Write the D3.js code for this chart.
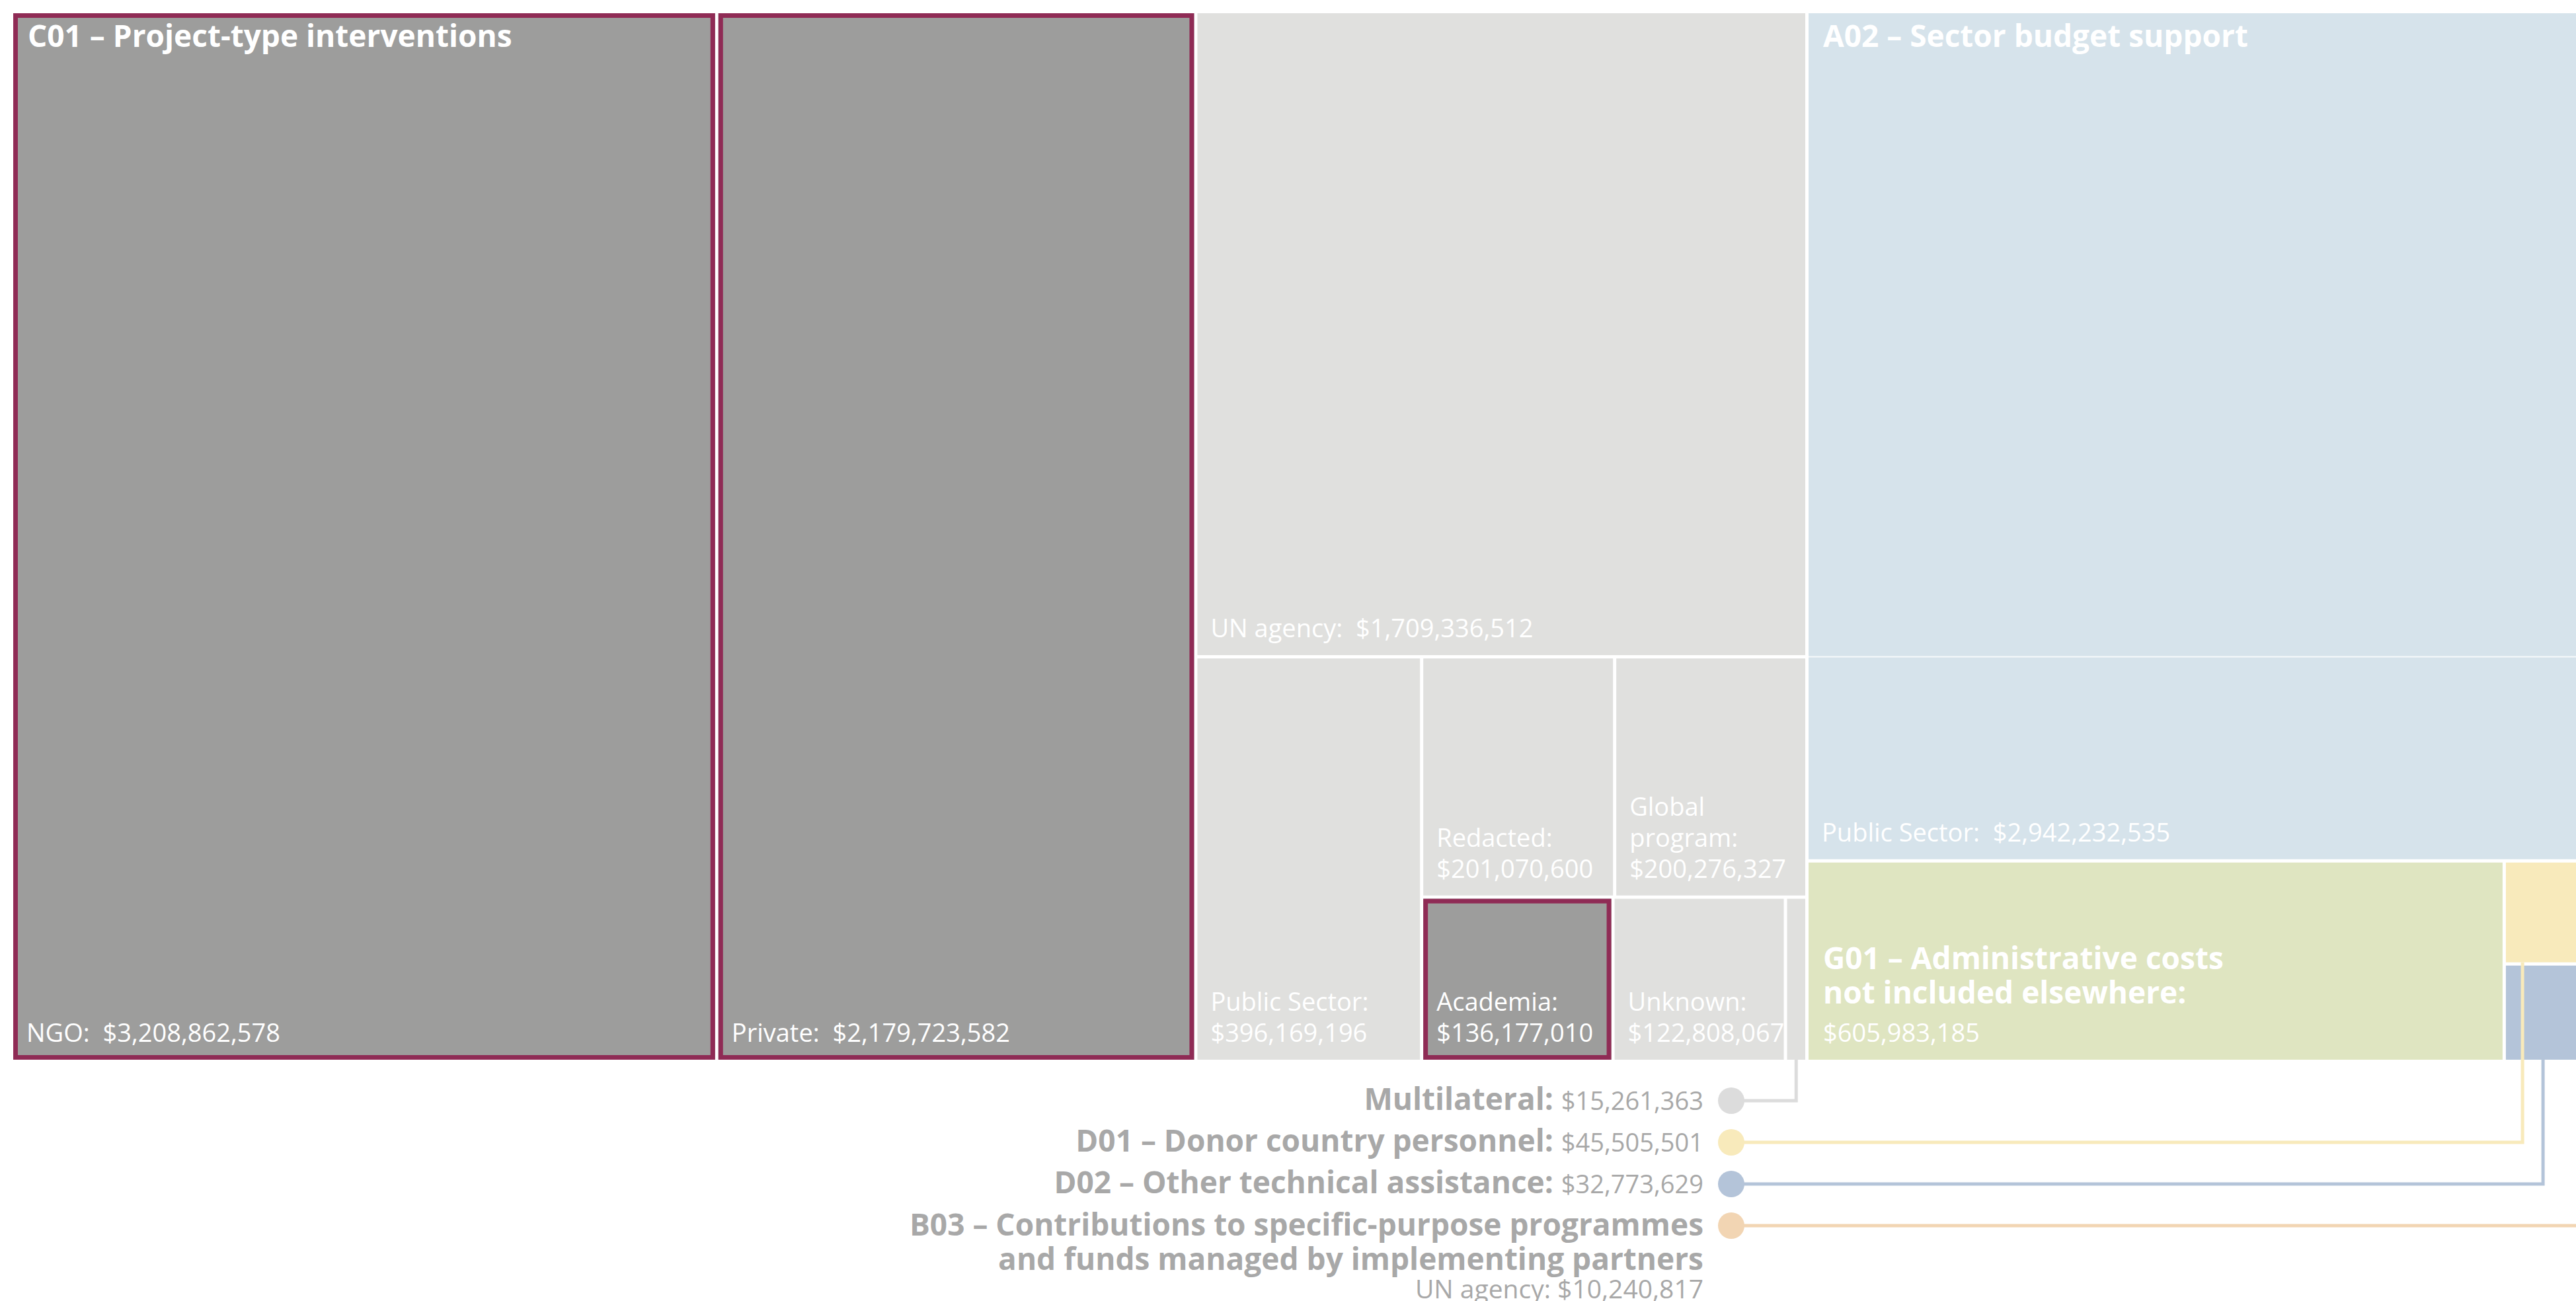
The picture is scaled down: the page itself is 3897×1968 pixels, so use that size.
<!DOCTYPE html>
<html>
<head>
<meta charset="utf-8">
<script src="https://cdn.jsdelivr.net/npm/d3@7"></script>
<style>
  body { margin: 0; background: #fff; }
  svg { display: block; font-family: "Open Sans", sans-serif; }
</style>
</head>
<body>
<div id="chart"></div>
<script>
var width = 3897;
var height = 1968;

// aid types (top level of the treemap)
var typeCodes = ["C01", "A02", "G01", "D01", "D02", "B03"];
var typeNames = [
  "C01 – Project-type interventions",
  "A02 – Sector budget support",
  "G01 – Administrative costs\nnot included elsewhere",
  "D01 – Donor country personnel",
  "D02 – Other technical assistance",
  "B03 – Contributions to specific-purpose programmes\nand funds managed by implementing partners"
];
var typeColors = ["#e0e0de", "#d6e3eb", "#dfe5c1", "#f8eabb", "#b4c4d9", "#f2d5b3"];

// recipients (leaves)
var leafTypes = ["C01", "C01", "C01", "C01", "C01", "C01", "C01", "C01", "C01", "A02", "G01", "D01", "D02", "B03"];
var leafRecipients = ["NGO", "Private", "UN agency", "Public Sector", "Redacted", "Global program",
  "Academia", "Unknown", "Multilateral", "Public Sector", null, null, null, "UN agency"];
var leafValues = [3208862578, 2179723582, 1709336512, 396169196, 201070600, 200276327,
  136177010, 122808067, 15261363, 2942232535, 605983185, 45505501, 32773629, 10240817];
var highlighted = ["NGO", "Private", "Academia"];

var highlightFill = "#9d9d9c";
var highlightStroke = "#8f2b55";
var legendColor = "#a8a8a8";
var fmt = d3.format("$,");

// squarified tiling, same as d3's squarify but allowing a target ratio below 1
function squarifyLoose(ratio) {
  return function(parent, x0, y0, x1, y1) {
    var nodes = parent.children, value = parent.value, i0 = 0;
    while (i0 < nodes.length) {
      var dx = x1 - x0, dy = y1 - y0;
      var i1 = i0, sum = nodes[i1++].value, minV = sum, maxV = sum;
      var alpha = Math.max(dy / dx, dx / dy) / (value * ratio);
      var beta = sum * sum * alpha;
      var best = Math.max(maxV / beta, beta / minV);
      for (; i1 < nodes.length; ++i1) {
        var v = nodes[i1].value, s = sum + v;
        var mn = Math.min(minV, v), mx = Math.max(maxV, v);
        beta = s * s * alpha;
        var r = Math.max(mx / beta, beta / mn);
        if (r > best) break;
        sum = s; minV = mn; maxV = mx; best = r;
      }
      var row = {value: sum, children: nodes.slice(i0, i1)};
      if (dx < dy) {
        var yb = y0 + dy * sum / value;
        d3.treemapDice(row, x0, y0, x1, yb);
        y0 = yb;
      } else {
        var xb = x0 + dx * sum / value;
        d3.treemapSlice(row, x0, y0, xb, y1);
        x0 = xb;
      }
      value -= sum;
      i0 = i1;
    }
  };
}

var data = {
  children: typeCodes.map(function(code, i) {
    return {
      code: code, name: typeNames[i], color: typeColors[i],
      children: leafValues.map(function(v, j) {
        return {type: code, recipient: leafRecipients[j], value: v, t: leafTypes[j]};
      }).filter(function(d) { return d.t === code; })
    };
  })
};

var root = d3.hierarchy(data)
  .sum(function(d) { return d.value || 0; })
  .sort(function(a, b) { return b.value - a.value; });

d3.treemap()
  .size([3920, 1583])
  .paddingInner(5)
  .tile(squarifyLoose(0.85))(root);

var svg = d3.select("#chart").append("svg")
  .attr("width", width)
  .attr("height", height);

var g = svg.append("g").attr("transform", "translate(20,20)");

var leaves = root.leaves();
function isCallout(d) { return d.x1 - d.x0 < 200; }
function isHigh(d) { return d.data.type === "C01" && highlighted.indexOf(d.data.recipient) >= 0; }

// tiles
var tile = g.selectAll("g.tile")
  .data(leaves)
  .enter().append("g")
  .attr("class", "tile");

tile.append("rect")
  .attr("x", function(d) { return d.x0; })
  .attr("y", function(d) { return d.y0; })
  .attr("width", function(d) { return d.x1 - d.x0; })
  .attr("height", function(d) { return d.y1 - d.y0; })
  .style("fill", function(d) { return isHigh(d) ? highlightFill : d.parent.data.color; });

tile.filter(isHigh).append("rect")
  .attr("x", function(d) { return d.x0 + 3.5; })
  .attr("y", function(d) { return d.y0 + 3.5; })
  .attr("width", function(d) { return d.x1 - d.x0 - 7; })
  .attr("height", function(d) { return d.y1 - d.y0 - 7; })
  .style("fill", "none")
  .style("stroke", highlightStroke)
  .style("stroke-width", 7);

// faint seam across A02 at the height of the UN agency row
var unLeaf = leaves.filter(function(d) { return d.data.type === "C01" && d.data.recipient === "UN agency"; })[0];
var a02 = root.children.filter(function(d) { return d.data.code === "A02"; })[0];
g.append("line")
  .attr("x1", a02.x0).attr("x2", a02.x1)
  .attr("y1", unLeaf.y1 + 2.5).attr("y2", unLeaf.y1 + 2.5)
  .style("stroke", "#fff").style("stroke-width", 2).style("opacity", 0.8);

// text measuring helper
var measurer = g.append("text").style("visibility", "hidden");
function textWidth(str, size, weight) {
  measurer.style("font-size", size + "px").style("font-weight", weight).text(str);
  return measurer.node().getComputedTextLength();
}

var labelSize = 38, titleSize = 46, lineH = 47, pad = 20;

// group titles at the top-left of their first tile
root.children.forEach(function(group) {
  var first = group.leaves()[0];
  if (first.data.recipient && !isCallout(first)) {
    g.append("text")
      .attr("x", first.x0 + 22)
      .attr("y", first.y0 + 51)
      .style("font-size", titleSize + "px")
      .style("font-weight", 700)
      .style("fill", "#fff")
      .text(group.data.name);
  }
});

// tile labels at the bottom-left
leaves.filter(function(d) { return !isCallout(d); }).forEach(function(d) {
  var x = d.x0 + pad, yb = d.y1 - 27;
  if (d.data.recipient) {
    var maxW = d.x1 - d.x0 - 2 * pad;
    var words = (d.data.recipient + ":").split(" ");
    var lines = [], line = words[0];
    words.slice(1).forEach(function(w) {
      if (textWidth(line + " " + w, labelSize, 400) <= maxW) line += " " + w;
      else { lines.push(line); line = w; }
    });
    var val = fmt(d.data.value);
    if (textWidth(line + "\u00a0\u00a0" + val, labelSize, 400) <= maxW) line += "\u00a0\u00a0" + val;
    else { lines.push(line); line = val; }
    lines.push(line);
    var t = g.append("text").style("font-size", labelSize + "px").style("fill", "#fff");
    lines.forEach(function(l, i) {
      t.append("tspan").attr("x", x).attr("y", yb - (lines.length - 1 - i) * lineH).text(l);
    });
  } else {
    var nameLines = d.parent.data.name.split("\n");
    nameLines[nameLines.length - 1] += ":";
    var t2 = g.append("text").style("fill", "#fff");
    nameLines.forEach(function(l, i) {
      t2.append("tspan").attr("x", d.x0 + 22)
        .attr("y", yb - 58 - (nameLines.length - 1 - i) * 52)
        .style("font-size", titleSize + "px").style("font-weight", 700).text(l);
    });
    t2.append("tspan").attr("x", d.x0 + 22).attr("y", yb)
      .style("font-size", labelSize + "px").text(fmt(d.data.value));
  }
});

// callouts for tiles too small to label
var callouts = leaves.filter(isCallout);
var dotX = 2599, rowY0 = 1645, rowStep = 63, dotR = 20;
var anchors = callouts.map(function(d) { return (d.x0 + d.x1) / 2; });
for (var i = anchors.length - 2; i >= 0; i--) {
  anchors[i] = Math.min(anchors[i], anchors[i + 1] - 31);
}

callouts.forEach(function(d, i) {
  var y = rowY0 + i * rowStep;
  var color = d.parent.data.code === "C01" ? "#dcdcdc" : d.parent.data.color;
  g.append("path")
    .attr("d", "M" + dotX + "," + y + "H" + anchors[i] + "V" + d.y1)
    .style("fill", "none")
    .style("stroke", color)
    .style("stroke-width", 5);
  g.append("circle")
    .attr("cx", dotX).attr("cy", y).attr("r", dotR)
    .style("fill", color);

  var tx = dotX - 42;
  var single = d.parent.children.length === 1;
  if (!single || !d.data.recipient) {
    var name = single ? d.parent.data.name : d.data.recipient;
    var t = g.append("text")
      .attr("x", tx).attr("y", y + 14)
      .attr("text-anchor", "end")
      .style("fill", legendColor);
    t.append("tspan").style("font-size", "46px").style("font-weight", 700).text(name + ": ");
    t.append("tspan").style("font-size", "38px").text(fmt(d.data.value));
  } else {
    var parts = d.parent.data.name.split("\n");
    parts.forEach(function(p, k) {
      g.append("text")
        .attr("x", tx).attr("y", y + 15 + k * 52)
        .attr("text-anchor", "end")
        .style("font-size", "46px")
        .style("font-weight", 700)
        .style("fill", legendColor)
        .text(p);
    });
    g.append("text")
      .attr("x", tx).attr("y", y + 6 + parts.length * 52)
      .attr("text-anchor", "end")
      .style("font-size", "39px")
      .style("fill", legendColor)
      .text(d.data.recipient + ": " + fmt(d.data.value));
  }
});
</script>
</body>
</html>
